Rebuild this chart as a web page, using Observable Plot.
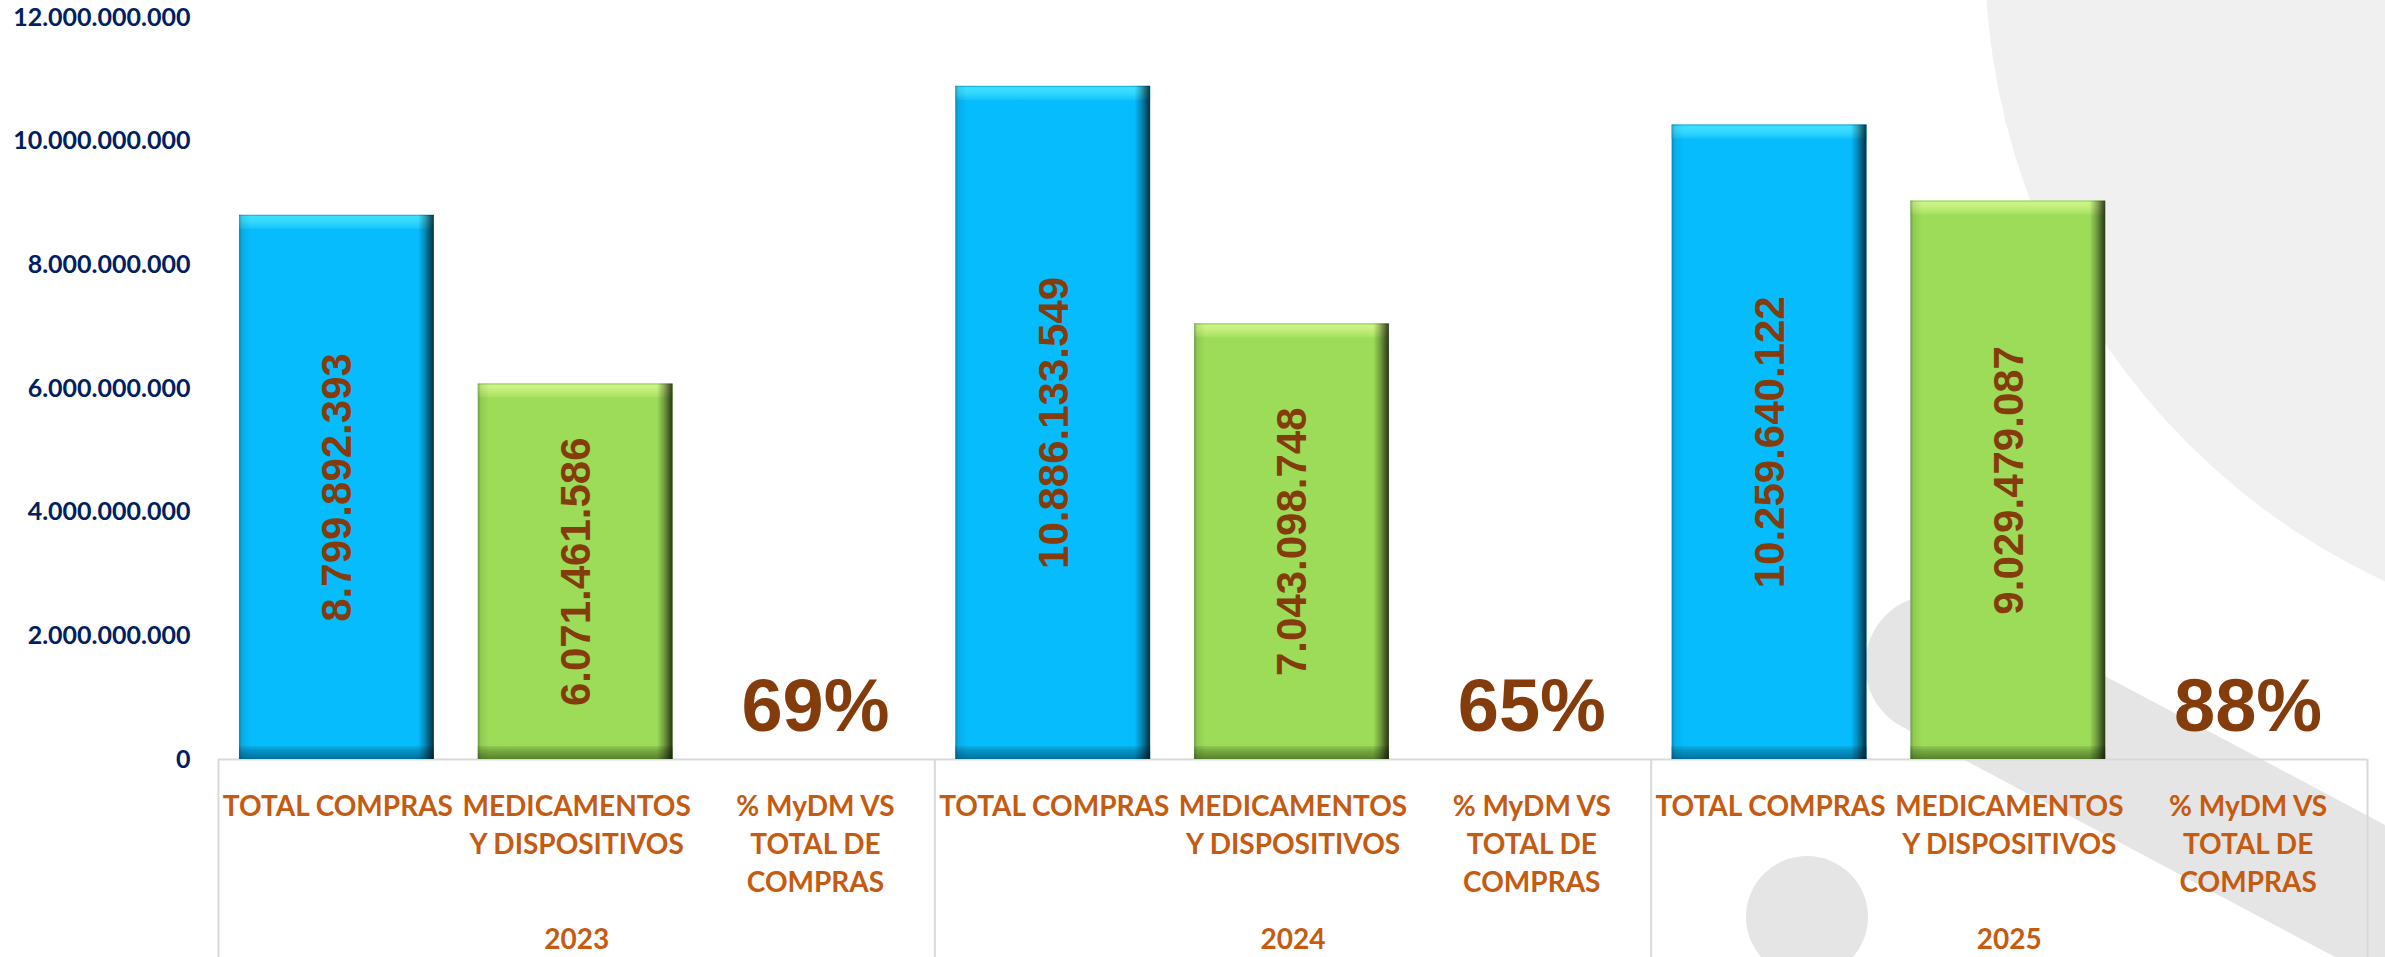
<!DOCTYPE html>
<html><head><meta charset="utf-8">
<script src="https://cdn.jsdelivr.net/npm/d3@7"></script>
<script src="https://cdn.jsdelivr.net/npm/@observablehq/plot@0.6"></script>
<style>
html,body{margin:0;padding:0;background:#fff;overflow:hidden;}
#chart{position:relative;width:2385px;height:957px;}
</style></head><body><div id="chart"></div>
<script>
const years = ["2023", "2024", "2025"];
const categories = ["TOTAL COMPRAS", "MEDICAMENTOS\nY DISPOSITIVOS", "% MyDM VS\nTOTAL DE\nCOMPRAS"];
const totalCompras = [8799892393, 10886133549, 10259640122];
const medicamentos = [6071461586, 7043098748, 9029479087];
const pctMyDM = [69, 65, 88];
const yTicks = [0, 2e9, 4e9, 6e9, 8e9, 10e9, 12e9];

const nCat = categories.length;
const bars = [];
years.forEach((yr, i) => {
  bars.push({year: yr, kind: "total", slot: i * nCat + 0, value: totalCompras[i]});
  bars.push({year: yr, kind: "med", slot: i * nCat + 1, value: medicamentos[i]});
});
const pcts = years.map((yr, i) => ({year: yr, slot: i * nCat + 2, pct: pctMyDM[i]}));
const catLabels = years.flatMap((yr, i) => categories.map((c, j) => ({slot: i * nCat + j, text: c})));
const yearLabels = years.map((yr, i) => ({slot: i * nCat, text: yr}));
const dividers = d3.range(0, years.length * nCat + 1, nCat);

const loc = d3.formatLocale({decimal: ",", thousands: ".", grouping: [3], currency: ["$", ""]});
const fmt = loc.format(",d");

const totals = bars.filter(d => d.kind === "total");
const meds = bars.filter(d => d.kind === "med");
const X1 = d => d.slot, X2 = d => d.slot + 1, XC = d => d.slot + 0.5;
const inset = {insetLeft: 21, insetRight: 23};
const labelFont = "Lato, 'Open Sans', sans-serif";
const numFont = "'Liberation Sans', Arial, sans-serif";

function barLayers(data, base, top, bottom) {
  return [
    Plot.rect(data, {x1: X1, x2: X2, y1: 0, y2: "value", fill: base, ...inset}),
    Plot.rect(data, {x1: X1, x2: X2, y1: "value", y2: "value", insetBottom: -14, fill: top, ...inset}),
    Plot.rect(data, {x1: X1, x2: X2, y1: 0, y2: 0, insetTop: -13, fill: bottom, ...inset}),
    Plot.rect(data, {x1: X1, x2: X2, y1: 0, y2: "value", fill: "url(#shadeH)", ...inset})
  ];
}

const plot = Plot.plot({
  width: 2385,
  height: 957,
  marginLeft: 218,
  marginRight: 18,
  marginTop: 17,
  marginBottom: 198,
  style: {background: "transparent", overflow: "visible"},
  x: {domain: [0, years.length * nCat]},
  y: {domain: [0, 12e9]},
  marks: [
    Plot.ruleY([0], {stroke: "#d9d9d9", strokeWidth: 2}),
    Plot.axisX(dividers, {tickSize: 198, tickFormat: () => "", stroke: "#d9d9d9", strokeWidth: 2, strokeOpacity: 1, label: null}),
    Plot.axisY(yTicks, {tickSize: 0, tickPadding: 28, tickFormat: fmt, fontSize: 25, fontWeight: "bold",
      fontFamily: labelFont, fill: "#002060", label: null}),
    ...barLayers(totals, "#06bcfc", "url(#topBlue)", "url(#botBlue)"),
    ...barLayers(meds, "#9ddc58", "url(#topGreen)", "url(#botGreen)"),
    Plot.text(bars, {x: XC, y: d => d.value / 2, text: d => fmt(d.value), rotate: -90,
      fontSize: 42, fontWeight: "bold", fontFamily: numFont, fill: "#843c0c"}),
    Plot.text(pcts, {x: XC, y: 0, text: d => d.pct + "%", dy: -52,
      fontSize: 74, fontWeight: "bold", fontFamily: numFont, fill: "#843c0c"}),
    Plot.text(catLabels, {x: XC, y: 0, text: "text", dy: 29, lineAnchor: "top", lineHeight: 1.37,
      fontSize: 28, fontWeight: "bold", fontFamily: labelFont, fill: "#c55a11"}),
    Plot.text(yearLabels, {x: d => d.slot + nCat / 2, y: 0, text: "text", dy: 181,
      fontSize: 28, fontWeight: "bold", fontFamily: labelFont, fill: "#c55a11"})
  ]
});

// gradients + decorative background shapes
const svg = d3.select(plot);
const defs = svg.insert("defs", ":first-child");
function grad(id, horizontal, stops) {
  const g = defs.append("linearGradient").attr("id", id)
    .attr("x1", 0).attr("y1", 0).attr("x2", horizontal ? 1 : 0).attr("y2", horizontal ? 0 : 1);
  stops.forEach(([o, c, a]) => g.append("stop").attr("offset", o).attr("stop-color", c).attr("stop-opacity", a ?? 1));
}
grad("shadeH", true, [[0, "#003040", 0.35], [0.015, "#000", 0.08], [0.06, "#000", 0], [0.92, "#000", 0],
  [0.955, "#000", 0.28], [0.985, "#000", 0.6], [1, "#000", 0.75]]);
grad("topBlue", false, [[0, "#0aa0d8"], [0.12, "#3fe0ff"], [0.5, "#33d8ff"], [1, "#14c3fb"]]);
grad("botBlue", false, [[0, "#07b0ea"], [0.35, "#0593c8"], [1, "#04709c"]]);
grad("topGreen", false, [[0, "#8cc850"], [0.12, "#cdf586"], [0.5, "#c0ee78"], [1, "#a5e062"]]);
grad("botGreen", false, [[0, "#8fca52"], [0.35, "#78ab42"], [1, "#58822c"]]);

const bg = svg.insert("g", "defs + *").attr("class", "bg-deco");
bg.append("circle").attr("cx", 2677).attr("cy", -46).attr("r", 692).attr("fill", "#f0f0f0");
bg.append("line").attr("x1", 1935).attr("y1", 665).attr("x2", 2520).attr("y2", 976)
  .attr("stroke", "#e5e5e5").attr("stroke-width", 140).attr("stroke-linecap", "round");
bg.append("circle").attr("cx", 1807).attr("cy", 917).attr("r", 61).attr("fill", "#e5e5e5");

document.getElementById("chart").appendChild(plot);
</script></body></html>
